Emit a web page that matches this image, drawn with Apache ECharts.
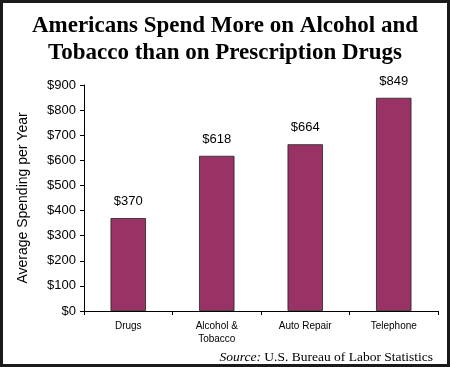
<!DOCTYPE html>
<html><head><meta charset="utf-8">
<script src="https://cdn.jsdelivr.net/npm/echarts@6/dist/echarts.min.js"></script>
<style>html,body{margin:0;padding:0;background:#fff}#c{width:450px;height:367px}</style>
</head><body><div id="c"></div>
<script>
const categories = ['Drugs', 'Alcohol &\nTobacco', 'Auto Repair', 'Telephone'];
const values = [370, 618, 664, 849];
const yTicks = [0, 100, 200, 300, 400, 500, 600, 700, 800, 900];

const chart = echarts.init(document.getElementById('c'), null, {renderer: 'canvas'});
chart.setOption({
  backgroundColor: '#fff',
  animation: false,
  title: {
    text: 'Americans Spend More on Alcohol and\nTobacco than on Prescription Drugs',
    left: 'center', top: 8,
    textStyle: {fontFamily: 'Liberation Serif', fontWeight: 'bold', fontSize: 23, lineHeight: 27, color: '#000'}
  },
  graphic: [
    {type: 'rect', shape: {x: 1.5, y: 1.5, width: 447, height: 364}, style: {fill: 'none', stroke: '#1a1a1a', lineWidth: 3}, silent: true},
    {type: 'text', right: 17, top: 350, style: {
      text: '{i|Source:} U.S. Bureau of Labor Statistics',
      rich: {i: {fontStyle: 'italic', fontFamily: 'Liberation Serif', fontSize: 13.5, fill: '#000'}},
      fontFamily: 'Liberation Serif', fontSize: 13.5, fill: '#000'
    }}
  ],
  grid: {left: 84, right: 12, top: 85, bottom: 56},
  xAxis: {
    type: 'category', data: categories,
    axisLine: {lineStyle: {color: '#000', width: 1}},
    axisTick: {show: true, length: 4, lineStyle: {color: '#000'}, alignWithLabel: false},
    axisLabel: {fontFamily: 'Liberation Sans', fontSize: 10, color: '#000', margin: 9, lineHeight: 13, interval: 0}
  },
  yAxis: {
    type: 'value', min: 0, max: 900, interval: 100,
    name: 'Average Spending per Year', nameLocation: 'middle', nameGap: 54, nameRotate: 90,
    nameTextStyle: {fontFamily: 'Liberation Sans', fontSize: 14, color: '#000'},
    axisLine: {show: true, lineStyle: {color: '#000', width: 1}},
    axisTick: {show: true, length: 4, lineStyle: {color: '#000'}},
    splitLine: {show: false},
    axisLabel: {fontFamily: 'Liberation Sans', fontSize: 13, color: '#000', margin: 8,
      formatter: v => '$' + v}
  },
  series: [{
    type: 'bar', data: values, barWidth: '40%',
    itemStyle: {color: '#993366', borderColor: '#222', borderWidth: 0.8},
    label: {show: true, position: 'top', distance: 10, fontFamily: 'Liberation Sans', fontSize: 13, color: '#000',
      formatter: p => '$' + p.value}
  }]
});
</script></body></html>
